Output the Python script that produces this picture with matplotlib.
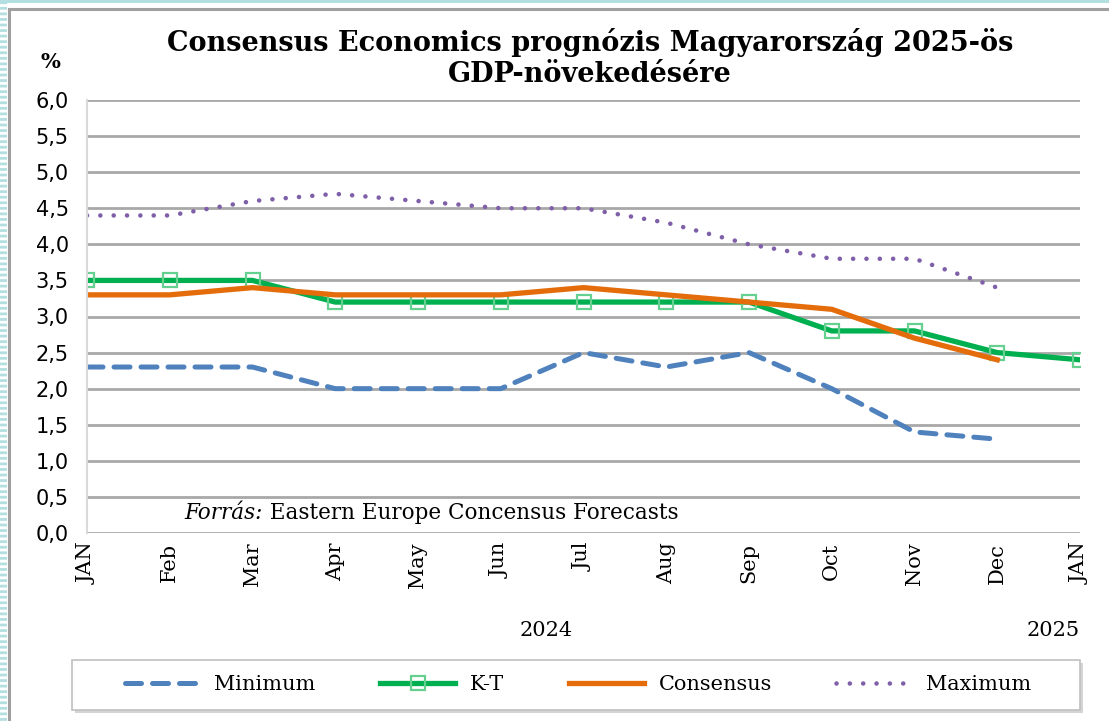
# coding:utf-8

import numpy as np
import matplotlib.pyplot as plt
from matplotlib.patches import Rectangle
from matplotlib.lines import Line2D
from matplotlib.ticker import MultipleLocator, FuncFormatter


months = ['JAN', 'Feb', 'Mar', 'Apr', 'May', 'Jun', 'Jul', 'Aug', 'Sep', 'Oct', 'Nov', 'Dec', 'JAN']
minimum = [2.3, 2.3, 2.3, 2.0, 2.0, 2.0, 2.5, 2.3, 2.5, 2.0, 1.4, 1.3, np.nan]
kt = [3.5, 3.5, 3.5, 3.2, 3.2, 3.2, 3.2, 3.2, 3.2, 2.8, 2.8, 2.5, 2.4]
consensus = [3.3, 3.3, 3.4, 3.3, 3.3, 3.3, 3.4, 3.3, 3.2, 3.1, 2.7, 2.4, np.nan]
maximum = [4.4, 4.4, 4.6, 4.7, 4.6, 4.5, 4.5, 4.3, 4.0, 3.8, 3.8, 3.4, np.nan]
years = ['2024', '2025']

x = np.arange(len(months))

fig = plt.figure(figsize=(11.09, 7.21), dpi=100)
W, H = 1109, 721

# striped page border on the left, band on top, grey chart frame
plt.rcParams['hatch.linewidth'] = 2.0
fig.add_artist(Rectangle((0, 0), 7 / W, 1, transform=fig.transFigure, facecolor='white',
                         edgecolor='#b4dfe0', hatch='---', linewidth=0))
fig.add_artist(Rectangle((0, 1 - 3 / H), 1, 3 / H, transform=fig.transFigure,
                         facecolor='#b4dfe0', linewidth=0))
fig.add_artist(Line2D([9 / W, 9 / W], [0, 1 - 9 / H], transform=fig.transFigure, color='#a0a0a0', lw=2.2))
fig.add_artist(Line2D([9 / W, 1], [1 - 9 / H, 1 - 9 / H], transform=fig.transFigure, color='#a0a0a0', lw=2.2))

ax = fig.add_axes([87 / W, 1 - 533 / H, 993 / W, 433 / H])

ax.plot(x, minimum, color='#4f81bd', lw=3.6, linestyle=(0, (3.2, 2.2)),
        dash_capstyle='round', label='Minimum')
ax.plot(x, kt, color='#00b050', lw=3.8, marker='s', markersize=10, markerfacecolor='none',
        markeredgecolor='#66d090', markeredgewidth=1.6, label='K-T')
ax.plot(x, consensus, color='#e46c0a', lw=3.8, label='Consensus')
ax.plot(x, maximum, color='#7f60a8', lw=3.3, linestyle=(0, (0.01, 2.9)),
        dash_capstyle='round', label='Maximum')

ax.set_xlim(0, 12)
ax.set_ylim(0, 6)
ax.yaxis.set_major_locator(MultipleLocator(0.5))
ax.yaxis.set_major_formatter(FuncFormatter(lambda v, p: f'{v:.1f}'.replace('.', ',')))
ax.grid(axis='y', color='#a8a8a8', lw=2)
ax.set_axisbelow(True)
for s in ['top', 'right', 'bottom']:
    ax.spines[s].set_visible(False)
ax.spines['left'].set_color('#d9d9d9')
ax.spines['left'].set_linewidth(1.5)

ax.set_xticks(x)
ax.set_xticklabels(months, rotation=90, family='DejaVu Serif', fontsize=15)
ax.tick_params(axis='x', length=0, pad=7)
ax.tick_params(axis='y', length=0, pad=13, labelsize=15)
for t in ax.get_yticklabels():
    t.set_family('DejaVu Sans')

ax.text(5.55, -0.225, years[0], transform=ax.get_xaxis_transform(), ha='center', va='center',
        family='DejaVu Serif', fontsize=15)
ax.text(12, -0.225, years[1], transform=ax.get_xaxis_transform(), ha='right', va='center',
        family='DejaVu Serif', fontsize=15)

src = ax.text(1.18, 0.13, 'Forrás:', style='italic', family='DejaVu Serif', fontsize=15.5, va='bottom')
ax.annotate(' Eastern Europe Concensus Forecasts', xy=(1, 0), xycoords=src, va='bottom',
            family='DejaVu Serif', fontsize=15.5)

fig.text(590 / W, 1 - 58 / H, 'Consensus Economics prognózis Magyarország 2025-ös\nGDP-növekedésére',
         ha='center', va='center', family='DejaVu Serif', weight='bold', fontsize=19.5, linespacing=1.2)
fig.text(50 / W, 1 - 62 / H, '%', ha='center', va='center', family='DejaVu Serif', weight='bold', fontsize=15)

# legend box with a light shadow
fig.add_artist(Rectangle((75 / W, 1 - 713 / H), 1008 / W, 50 / H, transform=fig.transFigure,
                         facecolor='#d4d4d4', linewidth=0))
fig.add_artist(Rectangle((72 / W, 1 - 710 / H), 1008 / W, 50 / H, transform=fig.transFigure,
                         facecolor='white', edgecolor='#c0c0c0', linewidth=1.2))
leg = fig.legend(loc='center', bbox_to_anchor=(578 / W, 1 - 685 / H), ncol=4, frameon=False,
                 handlelength=3.6, handletextpad=0.7, columnspacing=3.1,
                 prop={'family': 'DejaVu Serif', 'size': 15})

plt.savefig('out.png', dpi=100)
